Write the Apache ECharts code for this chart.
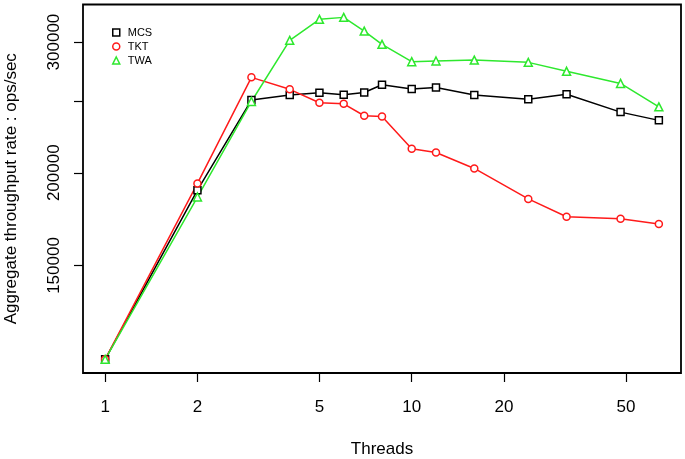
<!DOCTYPE html>
<html>
<head>
<meta charset="utf-8">
<script src="https://cdn.jsdelivr.net/npm/echarts@6/dist/echarts.min.js"></script>
<style>
html,body{margin:0;padding:0;background:#fff;}
#c{width:685px;height:459px;}
</style>
</head>
<body>
<div id="c"></div>
<script>
var threads = [1, 2, 3, 4, 5, 6, 7, 8, 10, 12, 16, 24, 32, 48, 64];
var mcs = [112100, 189500, 250600, 254500, 256300, 254700, 256600, 262800, 259300, 260600, 254500, 251200, 255200, 241400, 235300];
var tkt = [112100, 193500, 268900, 259100, 248500, 247700, 238700, 238200, 215400, 213000, 202700, 184400, 174500, 173400, 170600];
var twa = [112100, 185500, 249500, 301600, 321900, 323900, 310400, 297900, 282300, 282900, 283700, 281700, 274000, 263900, 245400];
var xTicks = [1, 2, 5, 10, 20, 50];
var yTicks = [150000, 200000, 250000, 300000];
var yLabels = [150000, 200000, 300000];

function pairs(ys) { return threads.map(function (t, i) { return [t, ys[i]]; }); }

var FONT = "'Liberation Sans', Arial, Helvetica, sans-serif";
var cRed = '#ff1a1a', cGreen = '#2ee82e', cBlack = '#000000';

var chart = echarts.init(document.getElementById('c'));
function mk(name, ys, color, symbol, size) {
  return {
    name: name, type: 'line', data: pairs(ys),
    symbol: symbol, symbolSize: size, showAllSymbol: true,
    lineStyle: { color: color, width: 1.5 },
    itemStyle: { color: '#ffffff', borderColor: color, borderWidth: 1.5 },
    emphasis: { disabled: true },
    animation: false
  };
}
chart.setOption({
  animation: false,
  backgroundColor: '#ffffff',
  grid: { left: 83, right: 4, top: 4.5, bottom: 86, outerBoundsMode: 'none', containLabel: false, show: true, borderColor: '#000', borderWidth: 1.8, backgroundColor: 'transparent' },
  legend: {
    orient: 'vertical', left: 107, top: 22, itemGap: 3, itemWidth: 7, itemHeight: 7,
    textStyle: { fontFamily: FONT, fontSize: 11, color: '#000', padding: [0, 0, 0, 3] },
    data: [
      { name: 'MCS', icon: 'rect', itemStyle: { color: 'transparent', borderColor: cBlack, borderWidth: 1.5 } },
      { name: 'TKT', icon: 'circle', itemStyle: { color: 'transparent', borderColor: cRed, borderWidth: 1.5 } },
      { name: 'TWA', icon: 'triangle', itemStyle: { color: 'transparent', borderColor: cGreen, borderWidth: 1.5 } }
    ]
  },
  xAxis: {
    type: 'log', logBase: 10, min: 0.8467, max: 75.58,
    name: 'Threads', nameLocation: 'middle', nameGap: 68,
    nameTextStyle: { fontFamily: FONT, fontSize: 17, color: '#000' },
    axisLine: { show: false },
    axisTick: { show: true, length: 9, lineStyle: { color: '#000', width: 1.2 }, customValues: xTicks },
    axisLabel: { fontFamily: FONT, fontSize: 17, color: '#000', margin: 26, customValues: xTicks, formatter: function (v) { return String(v); } },
    splitLine: { show: false }, minorTick: { show: false }, minorSplitLine: { show: false }
  },
  yAxis: {
    type: 'log', logBase: 10, min: 107450, max: 337100,
    name: 'Aggregate throughput rate : ops/sec', nameLocation: 'middle', nameGap: 63, nameRotate: 90,
    nameTextStyle: { fontFamily: FONT, fontSize: 17, color: '#000' },
    axisLine: { show: false },
    axisTick: { show: true, length: 9, lineStyle: { color: '#000', width: 1.2 }, customValues: yTicks },
    axisLabel: { fontFamily: FONT, fontSize: 17, color: '#000', margin: 20, rotate: 90, customValues: yLabels, formatter: function (v) { return String(v); } },
    splitLine: { show: false }, minorTick: { show: false }, minorSplitLine: { show: false }
  },
  series: [
    mk('MCS', mcs, cBlack, 'rect', 7),
    mk('TKT', tkt, cRed, 'circle', 7),
    mk('TWA', twa, cGreen, 'triangle', 8)
  ]
});
</script>
</body>
</html>
